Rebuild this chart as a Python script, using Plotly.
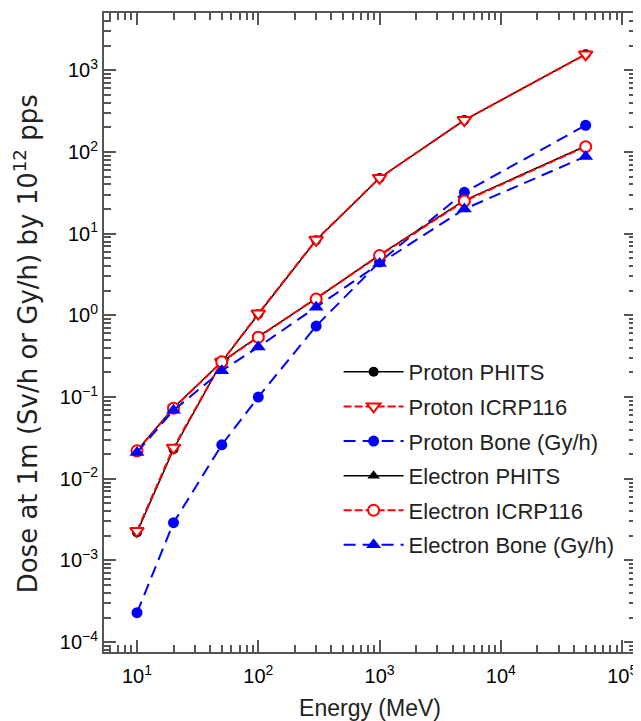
import plotly.graph_objects as go

energies = [10, 20, 50, 100, 300, 1000, 5000, 50000]
proton_phits = [2.2e-3, 0.023, 0.27, 1.03, 8.3, 48, 245, 1570]
proton_icrp116 = [2.3e-3, 0.024, 0.27, 1.05, 8.4, 48, 245, 1560]
proton_bone = [2.3e-4, 2.9e-3, 0.026, 0.10, 0.74, 4.5, 32, 212]
electron_phits = [0.022, 0.074, 0.27, 0.55, 1.60, 5.5, 25.5, 118]
electron_icrp116 = [0.022, 0.073, 0.27, 0.54, 1.58, 5.4, 25, 116]
electron_bone = [0.021, 0.069, 0.21, 0.41, 1.26, 4.3, 20, 88]

x_tickvals = [10, 100, 1000, 10000, 100000]
x_ticktext = ["10<sup>1</sup>", "10<sup>2</sup>", "10<sup>3</sup>", "10<sup>4</sup>", "10<sup>5</sup>"]
y_tickvals = [1e-4, 1e-3, 1e-2, 1e-1, 1, 10, 100, 1000]
y_ticktext = ["10<sup>\u22124</sup>", "10<sup>\u22123</sup>", "10<sup>\u22122</sup>", "10<sup>\u22121</sup>",
              "10<sup>0</sup>", "10<sup>1</sup>", "10<sup>2</sup>", "10<sup>3</sup>"]

x_minor = [m * 10 ** d for d in range(0, 5) for m in range(2, 10)]
y_minor = [m * 10.0 ** d for d in range(-5, 4) for m in range(2, 10)]

x_title = "Energy (MeV)"
y_title = "Dose at 1m (Sv/h or Gy/h) by 10<sup>12</sup> pps"

series = [
    ("Proton PHITS", proton_phits, dict(color="black", width=1.5), dict(symbol="circle", size=10, color="black")),
    ("Proton ICRP116", proton_icrp116, dict(color="red", width=2, dash="8px,3px"),
     dict(symbol="triangle-down", size=12, color="white", line=dict(color="red", width=2))),
    ("Proton Bone (Gy/h)", proton_bone, dict(color="blue", width=2, dash="12px,7px"),
     dict(symbol="circle", size=11, color="blue")),
    ("Electron PHITS", electron_phits, dict(color="black", width=1.5), dict(symbol="triangle-up", size=11, color="black")),
    ("Electron ICRP116", electron_icrp116, dict(color="red", width=2, dash="8px,3px"),
     dict(symbol="circle", size=11, color="white", line=dict(color="red", width=2))),
    ("Electron Bone (Gy/h)", electron_bone, dict(color="blue", width=2, dash="12px,7px"),
     dict(symbol="triangle-up", size=13, color="blue")),
]

fig = go.Figure()
for i, (name, vals, line, marker) in enumerate(series):
    fig.add_trace(go.Scatter(x=energies, y=vals, name=name, mode="lines+markers",
                             line=line, marker=marker, legendgroup=f"g{i}"))

font_family = "Liberation Sans, Arial, sans-serif"
axis_common = dict(
    type="log", showline=True, linecolor="#555", linewidth=2, mirror="ticks",
    ticks="inside", ticklen=12, tickwidth=2, tickcolor="#555",
    showgrid=False, zeroline=False, automargin=False,
    tickfont=dict(size=20, color="black", family=font_family),
)

# page body has an 8px margin; figure is sized so the plot area lands where the reference has it
fig.update_layout(
    template="none",
    width=633, height=713,
    margin=dict(l=96, r=5, t=5, b=69),
    paper_bgcolor="white", plot_bgcolor="white",
    font=dict(family=font_family, color="black"),
    showlegend=True,
    legend=dict(x=0.441, y=0.471, xanchor="left", yanchor="top",
                font=dict(size=22, color="#222"), itemwidth=60,
                tracegroupgap=3, bgcolor="rgba(0,0,0,0)", traceorder="grouped"),
    annotations=[dict(text=y_title, textangle=-90, xref="paper", yref="paper",
                      x=-0.146, y=0.482, xanchor="center", yanchor="middle", showarrow=False,
                      font=dict(size=26, color="#222", family="DejaVu Sans, sans-serif"))],
)
fig.update_xaxes(**axis_common, range=[0.728, 5.114], tickmode="array", tickvals=x_tickvals, ticktext=x_ticktext,
                 ticklabelstandoff=5,
                 minor=dict(tickmode="array", tickvals=x_minor, ticks="inside", ticklen=7,
                            tickwidth=1.5, tickcolor="#555", showgrid=False),
                 title=dict(text=x_title, font=dict(size=23, color="#222"), standoff=22))
fig.update_yaxes(**axis_common, range=[-4.12, 3.70], tickmode="array", tickvals=y_tickvals, ticktext=y_ticktext,
                 minor=dict(tickmode="array", tickvals=y_minor, ticks="inside", ticklen=7,
                            tickwidth=1.5, tickcolor="#555", showgrid=False))

fig.write_html("out.html")
